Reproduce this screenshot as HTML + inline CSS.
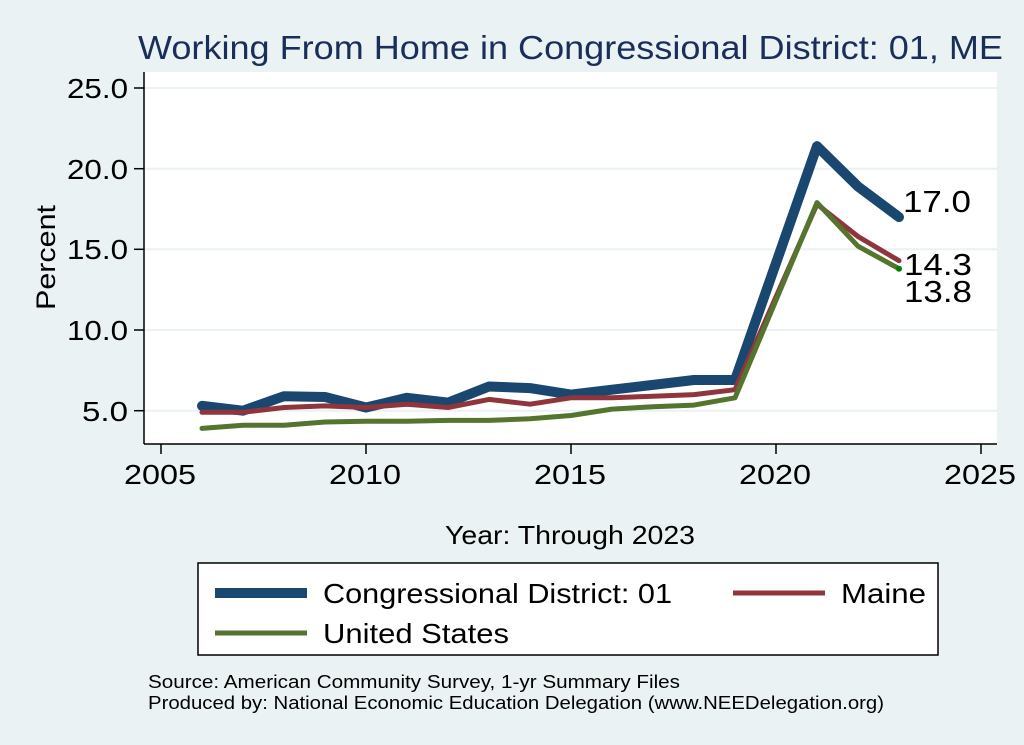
<!DOCTYPE html>
<html><head><style>
body{margin:0;background:#eaf2f3;}
svg{display:block;font-family:"Liberation Sans",Arial,sans-serif;}
</style></head><body>
<svg width="1024" height="745" viewBox="0 0 1024 745">
<rect width="1024" height="745" fill="#eaf2f3"/>
<text x="138" y="59" font-size="33" fill="#1a2e5a" textLength="865" lengthAdjust="spacingAndGlyphs">Working From Home in Congressional District: 01, ME</text>
<rect x="144" y="72" width="853" height="372" fill="#fff"/>
<g stroke="#eaf2f3" stroke-width="2">
<line x1="144" x2="997" y1="88" y2="88"/><line x1="144" x2="997" y1="168.7" y2="168.7"/>
<line x1="144" x2="997" y1="249.3" y2="249.3"/><line x1="144" x2="997" y1="330" y2="330"/>
<line x1="144" x2="997" y1="410.7" y2="410.7"/>
</g>
<g stroke="#000" stroke-width="1.5">
<line x1="144" y1="72" x2="144" y2="444"/><line x1="144" y1="444" x2="997" y2="444"/>
<line x1="134" x2="144" y1="88" y2="88"/><line x1="134" x2="144" y1="168.7" y2="168.7"/>
<line x1="134" x2="144" y1="249.3" y2="249.3"/><line x1="134" x2="144" y1="330" y2="330"/>
<line x1="134" x2="144" y1="410.7" y2="410.7"/>
<line x1="161" x2="161" y1="444" y2="454"/><line x1="366" x2="366" y1="444" y2="454"/>
<line x1="571" x2="571" y1="444" y2="454"/><line x1="776" x2="776" y1="444" y2="454"/>
<line x1="981" x2="981" y1="444" y2="454"/>
</g>
<g font-size="28" fill="#000">
<text x="67" y="98" textLength="61" lengthAdjust="spacingAndGlyphs">25.0</text>
<text x="67" y="179" textLength="61" lengthAdjust="spacingAndGlyphs">20.0</text>
<text x="67" y="259" textLength="61" lengthAdjust="spacingAndGlyphs">15.0</text>
<text x="67" y="340" textLength="61" lengthAdjust="spacingAndGlyphs">10.0</text>
<text x="82" y="421" textLength="46" lengthAdjust="spacingAndGlyphs">5.0</text>
</g>
<g font-size="28" fill="#000">
<text x="124" y="484" textLength="72" lengthAdjust="spacingAndGlyphs">2005</text>
<text x="329" y="484" textLength="72" lengthAdjust="spacingAndGlyphs">2010</text>
<text x="534" y="484" textLength="72" lengthAdjust="spacingAndGlyphs">2015</text>
<text x="739" y="484" textLength="72" lengthAdjust="spacingAndGlyphs">2020</text>
<text x="944" y="484" textLength="72" lengthAdjust="spacingAndGlyphs">2025</text>
</g>
<text transform="translate(55,310) rotate(-90)" font-size="27" textLength="105" lengthAdjust="spacingAndGlyphs">Percent</text>
<text x="445" y="544" font-size="26" textLength="250" lengthAdjust="spacingAndGlyphs">Year: Through 2023</text>
<g fill="none" stroke-linejoin="round" stroke-linecap="round">
<polyline stroke="#1a476f" stroke-width="10" points="202,405.9 243,410.7 284,396.2 325,397 366,407.5 407,397.8 448,402.6 489,386.5 530,388.1 571,394.6 612,389.7 653,384.9 694,380 735,380 817,146.2 858,186.5 899,217.1"/>
<polyline stroke="#90353b" stroke-width="5" points="202,412.3 243,412.3 284,407.5 325,405.9 366,407.5 407,404.2 448,407.5 489,399.4 530,404.2 571,397.8 612,397.8 653,396.2 694,394.6 735,389.7 817,204.2 858,236.5 899,260.7"/>
<polyline stroke="#55752f" stroke-width="5" points="202,428.4 243,425.2 284,425.2 325,422 366,421.2 407,421.2 448,420.4 489,420.4 530,418.8 571,415.5 612,409.1 653,406.7 694,405.1 735,397.8 817,202.6 858,246.2 899,268.7"/>
</g>
<circle cx="899" cy="268.7" r="3" fill="#008000"/>
<g font-size="31" fill="#000">
<text x="903" y="212" textLength="68" lengthAdjust="spacingAndGlyphs">17.0</text>
<text x="904" y="275" textLength="68" lengthAdjust="spacingAndGlyphs">14.3</text>
<text x="904" y="302" textLength="68" lengthAdjust="spacingAndGlyphs">13.8</text>
</g>
<rect x="198" y="563" width="740" height="92" fill="#fff" stroke="#000" stroke-width="1.5"/>
<line x1="215" x2="307" y1="593" y2="593" stroke="#1a476f" stroke-width="10"/>
<line x1="733" x2="825" y1="593" y2="593" stroke="#90353b" stroke-width="5"/>
<line x1="215" x2="307" y1="633" y2="633" stroke="#55752f" stroke-width="5"/>
<g font-size="28" fill="#000">
<text x="323" y="603" textLength="349" lengthAdjust="spacingAndGlyphs">Congressional District: 01</text>
<text x="841" y="603" textLength="85" lengthAdjust="spacingAndGlyphs">Maine</text>
<text x="323" y="643" textLength="186" lengthAdjust="spacingAndGlyphs">United States</text>
</g>
<g font-size="18" fill="#000">
<text x="148" y="688" textLength="532" lengthAdjust="spacingAndGlyphs">Source: American Community Survey, 1-yr Summary Files</text>
<text x="148" y="709" textLength="736" lengthAdjust="spacingAndGlyphs">Produced by: National Economic Education Delegation (www.NEEDelegation.org)</text>
</g>
</svg>
</body></html>
